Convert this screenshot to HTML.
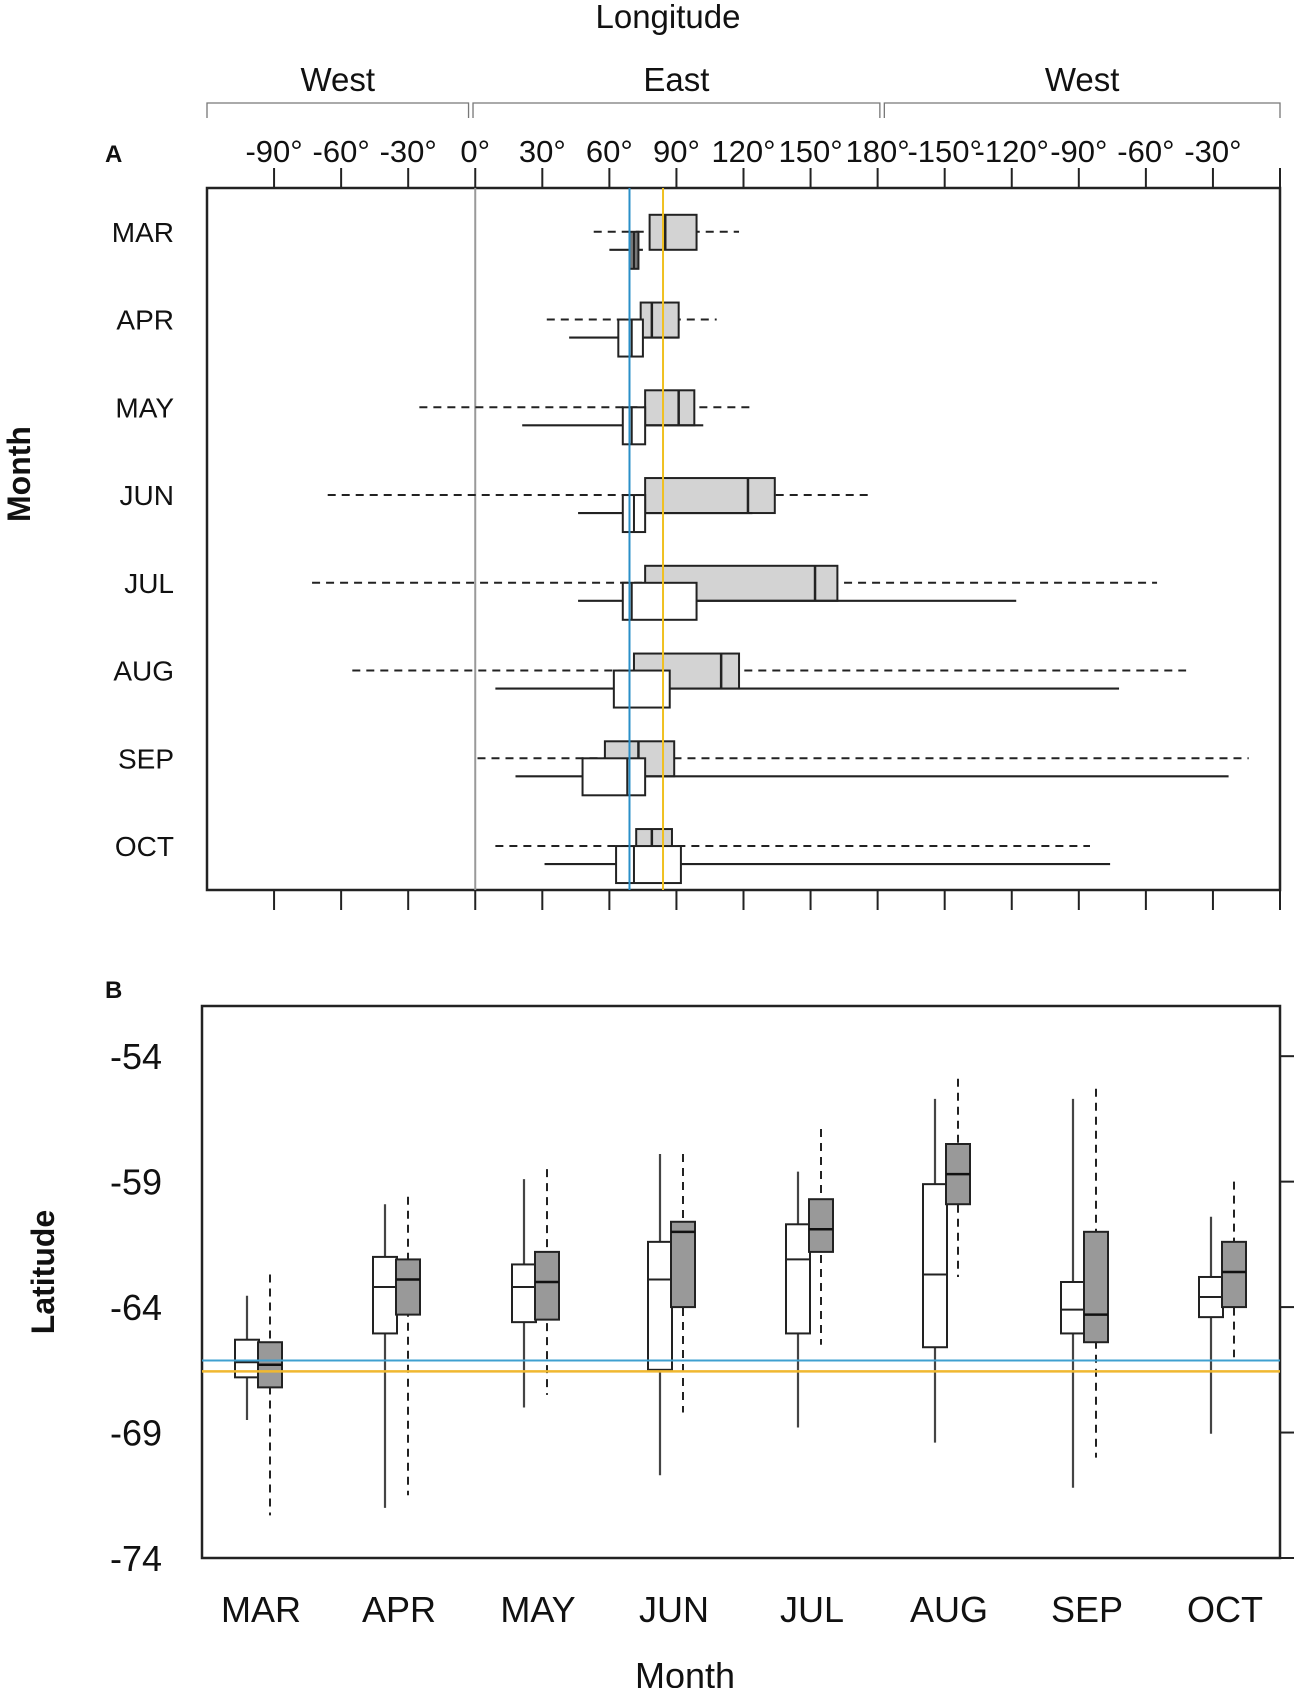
<!DOCTYPE html>
<html><head><meta charset="utf-8"><style>
html,body{margin:0;padding:0;background:#fff}
svg{display:block}
text{font-family:"Liberation Sans Narrow","Liberation Sans",sans-serif;fill:#111}
</style></head><body>
<svg id="c" width="1299" height="1688" viewBox="0 0 1299 1688"></svg>
<script>
const months=["MAR","APR","MAY","JUN","JUL","AUG","SEP","OCT"];
// Panel A longitude (continuous degrees, >180 = west wrap)
const lonGreyLo=[53,32,-25,-66,-73,-55,1,9];
const lonGreyQ1=[78,74,76,76,76,71,58,72];
const lonGreyMed=[85,79,91,122,152,110,73,79];
const lonGreyQ3=[99,91,98,134,162,118,89,88];
const lonGreyHi=[118,108,124,177,305,318,346,275];
const lonWhiteLo=[60,42,21,46,46,9,18,31];
const lonWhiteQ1=[69,64,66,66,66,62,48,63];
const lonWhiteMed=[71,70,70,71,70,69,68,71];
const lonWhiteQ3=[73,75,76,76,99,87,76,92];
const lonWhiteHi=[75,91,102,124,242,288,337,284];
const lonTicks=[-90,-60,-30,0,30,60,90,120,150,180,210,240,270,300,330];
const lonTickLabels=["-90°","-60°","-30°","0°","30°","60°","90°","120°","150°","180°","-150°","-120°","-90°","-60°","-30°"];
const lonBlue=69, lonYellow=84;
// Panel B latitude
const latWhiteLo=[-68.5,-72.0,-68.0,-70.7,-68.8,-69.4,-71.2,-69.05];
const latWhiteQ1=[-66.8,-65.05,-64.6,-66.5,-65.05,-65.6,-65.05,-64.4];
const latWhiteMed=[-66.2,-63.2,-63.2,-62.9,-62.1,-62.7,-64.1,-63.6];
const latWhiteQ3=[-65.3,-62.0,-62.3,-61.4,-60.7,-59.1,-63.0,-62.8];
const latWhiteHi=[-63.55,-59.9,-58.9,-57.9,-58.6,-55.7,-55.7,-60.4];
const latGreyLo=[-72.3,-71.5,-67.5,-68.2,-65.5,-62.8,-70.0,-66.0];
const latGreyQ1=[-67.2,-64.3,-64.5,-64.0,-61.8,-59.9,-65.4,-64.0];
const latGreyMed=[-66.3,-62.9,-63.0,-61.0,-60.9,-58.7,-64.3,-62.6];
const latGreyQ3=[-65.4,-62.1,-61.8,-60.6,-59.7,-57.5,-61.0,-61.4];
const latGreyHi=[-62.7,-59.6,-58.5,-57.9,-56.9,-54.9,-55.3,-59.0];
const latTicks=[-54,-59,-64,-69,-74];
const latBlue=-66.13, latYellow=-66.56;
const monthCentersB=[0,1,2,3,4,5,6,7];

const NS="http://www.w3.org/2000/svg";
const svg=document.getElementById('c');
function el(tag,attrs,txt){const e=document.createElementNS(NS,tag);for(const k in attrs)e.setAttribute(k,attrs[k]);if(txt!==undefined)e.textContent=txt;svg.appendChild(e);return e;}

// ---- Panel A ----
const AL=207,AR=1280,AT=188,AB=890;
const xA=v=>AL+(v+120)/480*(AR-AL);
const rowY=i=>231.8+i*87.75;
let e;
e=el('text',{x:668,y:28,'font-size':33,'text-anchor':'middle'},'Longitude');

const brackets=[[-120,-3,'West'],[-1,181,'East'],[183,360,'West']];
brackets.forEach((b,i)=>{
 const x1=xA(b[0]),x2=xA(b[1]);
 e=el('path',{d:`M${x1},118 V103 H${x2} V118`,fill:'none',stroke:'#777','stroke-width':1.3});
 
 e=el('text',{x:(x1+x2)/2,y:91,'font-size':33,'text-anchor':'middle'},b[2]);
 
});
e=el('text',{x:105,y:162,'font-size':24,'font-weight':'bold','font-family':'Liberation Sans'},'A');

e=el('rect',{x:AL,y:AT,width:AR-AL,height:AB-AT,fill:'none',stroke:'#222','stroke-width':2.5});

lonTicks.forEach((t,i)=>{
 const x=xA(t);
 e=el('line',{x1:x,x2:x,y1:AT-20,y2:AT,stroke:'#222','stroke-width':2});
 
 e=el('line',{x1:x,x2:x,y1:AB,y2:AB+20,stroke:'#222','stroke-width':2});
 
 e=el('text',{x:x,y:162,'font-size':31,'text-anchor':'middle'},lonTickLabels[i]);
 
});
e=el('line',{x1:AR,x2:AR,y1:AT-20,y2:AT,stroke:'#222','stroke-width':2});
e=el('line',{x1:AR,x2:AR,y1:AB,y2:AB+20,stroke:'#222','stroke-width':2});
e=el('text',{x:30,y:474,'font-size':32,'font-weight':'bold','font-family':'Liberation Sans','text-anchor':'middle',transform:'rotate(-90 30 474)'},'Month');

e=el('line',{x1:xA(0),x2:xA(0),y1:AT,y2:AB,stroke:'#999','stroke-width':2});

months.forEach((m,i)=>{
 const c=rowY(i);
 e=el('text',{x:174,y:c+10,'font-size':28,'text-anchor':'end'},m);
 
 // grey box
 e=el('line',{x1:xA(lonGreyLo[i]),x2:xA(lonGreyHi[i]),y1:c,y2:c,stroke:'#222','stroke-width':2,'stroke-dasharray':'8,6'});
 
 e=el('rect',{x:xA(lonGreyQ1[i]),y:c-17,width:xA(lonGreyQ3[i])-xA(lonGreyQ1[i]),height:35,fill:'#d3d3d3',stroke:'#222','stroke-width':2});
 
 e=el('line',{x1:xA(lonGreyMed[i]),x2:xA(lonGreyMed[i]),y1:c-17,y2:c+18,stroke:'#222','stroke-width':2.5});
 
 // white box
 e=el('line',{x1:xA(lonWhiteLo[i]),x2:xA(lonWhiteHi[i]),y1:c+18,y2:c+18,stroke:'#222','stroke-width':2.2});
 
 e=el('rect',{x:xA(lonWhiteQ1[i]),y:c,width:xA(lonWhiteQ3[i])-xA(lonWhiteQ1[i]),height:37,fill:i===0?'#777':'#fff',stroke:'#222','stroke-width':2});
 
 e=el('line',{x1:xA(lonWhiteMed[i]),x2:xA(lonWhiteMed[i]),y1:c,y2:c+37,stroke:'#222','stroke-width':2});
 
});
e=el('line',{x1:xA(lonBlue),x2:xA(lonBlue),y1:AT,y2:AB,stroke:'#2a8fc8','stroke-width':2});

e=el('line',{x1:xA(lonYellow),x2:xA(lonYellow),y1:AT,y2:AB,stroke:'#f0c020','stroke-width':2});


// ---- Panel B ----
const BL=202,BR=1280,BT=1006,BB=1558;
const yB=v=>BT+(-52-v)/22*(BB-BT);
const whiteX=[247,385,524,660,798,935,1073,1211];
const xB=i=>whiteX[monthCentersB[i]];
e=el('text',{x:105,y:998,'font-size':24,'font-weight':'bold','font-family':'Liberation Sans'},'B');

e=el('rect',{x:BL,y:BT,width:BR-BL,height:BB-BT,fill:'none',stroke:'#222','stroke-width':2.5});

latTicks.forEach(t=>{
 const y=yB(t);
 e=el('line',{x1:BR,x2:BR+14,y1:y,y2:y,stroke:'#222','stroke-width':2});
 
 e=el('text',{x:162,y:y+13,'font-size':36,'text-anchor':'end'},String(t));
 
});
e=el('text',{x:54,y:1272,'font-size':32,'font-weight':'bold','font-family':'Liberation Sans','text-anchor':'middle',transform:'rotate(-90 54 1272)'},'Latitude');

e=el('text',{x:685,y:1688,'font-size':36,'text-anchor':'middle'},'Month');

const bw=24;
months.forEach((m,i)=>{
 const xw=xB(i), xg=xw+23;
 e=el('text',{x:xw+14,y:1622,'font-size':36,'text-anchor':'middle'},m);
 
 e=el('line',{x1:xw,x2:xw,y1:yB(latWhiteHi[i]),y2:yB(latWhiteLo[i]),stroke:'#444','stroke-width':2.2});
 
 e=el('rect',{x:xw-bw/2,y:yB(latWhiteQ3[i]),width:bw,height:yB(latWhiteQ1[i])-yB(latWhiteQ3[i]),fill:'#fff',stroke:'#222','stroke-width':2});
 
 e=el('line',{x1:xw-bw/2,x2:xw+bw/2,y1:yB(latWhiteMed[i]),y2:yB(latWhiteMed[i]),stroke:'#222','stroke-width':2});
 
 e=el('line',{x1:xg,x2:xg,y1:yB(latGreyHi[i]),y2:yB(latGreyLo[i]),stroke:'#222','stroke-width':2,'stroke-dasharray':'8,6'});
 
 e=el('rect',{x:xg-bw/2,y:yB(latGreyQ3[i]),width:bw,height:yB(latGreyQ1[i])-yB(latGreyQ3[i]),fill:'#999',stroke:'#222','stroke-width':2});
 
 e=el('line',{x1:xg-bw/2,x2:xg+bw/2,y1:yB(latGreyMed[i]),y2:yB(latGreyMed[i]),stroke:'#111','stroke-width':2.5});
 
});
e=el('line',{x1:BL,x2:BR,y1:yB(latBlue),y2:yB(latBlue),stroke:'#3fa0d0','stroke-width':2});

e=el('line',{x1:BL,x2:BR,y1:yB(latYellow),y2:yB(latYellow),stroke:'#f0b830','stroke-width':2.5});

</script>
</body></html>
